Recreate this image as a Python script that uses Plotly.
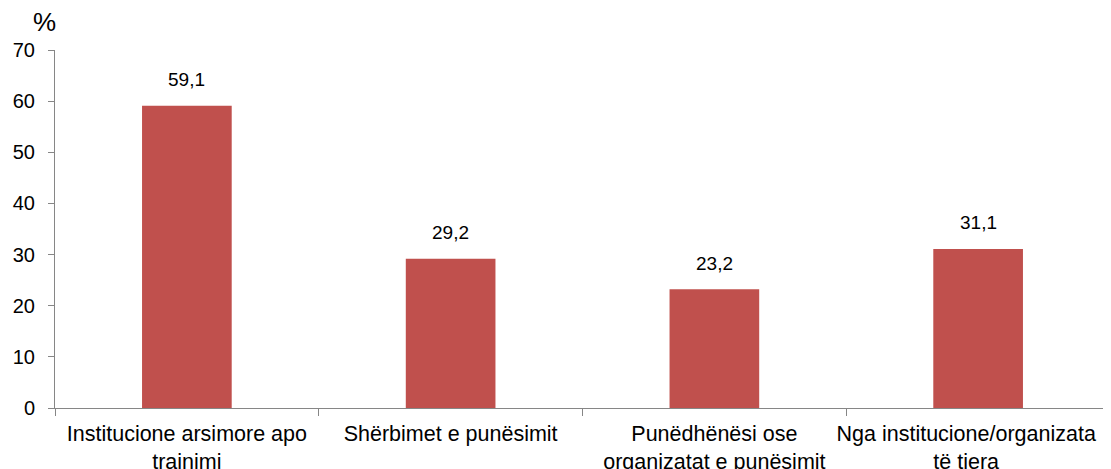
import plotly.graph_objects as go

categories = [
    "Institucione arsimore apo trajnimi",
    "Shërbimet e punësimit",
    "Punëdhënësi ose organizatat e punësimit",
    "Nga institucione/organizata të tjera",
]
tick_labels = [
    "Institucione arsimore apo<br>trajnimi",
    "Shërbimet e punësimit",
    "Punëdhënësi ose<br>organizatat e punësimit",
    "Nga institucione/organizata\u00a0\u00a0\u00a0\u00a0<br>të tjera\u00a0\u00a0\u00a0\u00a0",
]
values = [59.1, 29.2, 23.2, 31.1]
labels = ["59,1", "29,2", "23,2", "31,1"]
y_ticks = [0, 10, 20, 30, 40, 50, 60, 70]

fig = go.Figure(go.Bar(
    x=categories, y=values,
    marker=dict(color="#C0504D", line=dict(width=0)),
    width=0.34,
    hoverinfo="skip",
))

annotations = [dict(text="%", x=0, y=1, xref="paper", yref="paper",
                    xanchor="center", yanchor="middle", xshift=-11, yshift=28,
                    showarrow=False, font=dict(size=26))]
for c, v, t in zip(categories, values, labels):
    annotations.append(dict(x=c, y=v, text=t, xref="x", yref="y",
                            showarrow=False, yanchor="middle", yshift=26,
                            font=dict(size=19, color="#000000")))

fig.update_layout(
    width=1111, height=469,
    margin=dict(l=47, r=9, t=42, b=69, autoexpand=False),
    paper_bgcolor="white", plot_bgcolor="white",
    font=dict(family="Liberation Sans, Arial, sans-serif", size=19, color="#000000"),
    showlegend=False,
    annotations=annotations,
)
fig.update_xaxes(
    tickvals=categories, ticktext=tick_labels,
    showline=True, linecolor="#868686", linewidth=1,
    ticks="outside", tickson="boundaries", ticklen=7, tickcolor="#868686",
    showgrid=False, tickfont=dict(size=21.5), tickangle=0, automargin=False,
    ticklabelstandoff=6,
)
fig.update_yaxes(
    range=[0, 70], tickvals=y_ticks,
    showline=True, linecolor="#868686", linewidth=1,
    ticks="outside", ticklen=6, tickcolor="#868686",
    showgrid=False, zeroline=False, tickfont=dict(size=20), automargin=False,
    ticklabelstandoff=9,
)

fig.write_html("out.html")
